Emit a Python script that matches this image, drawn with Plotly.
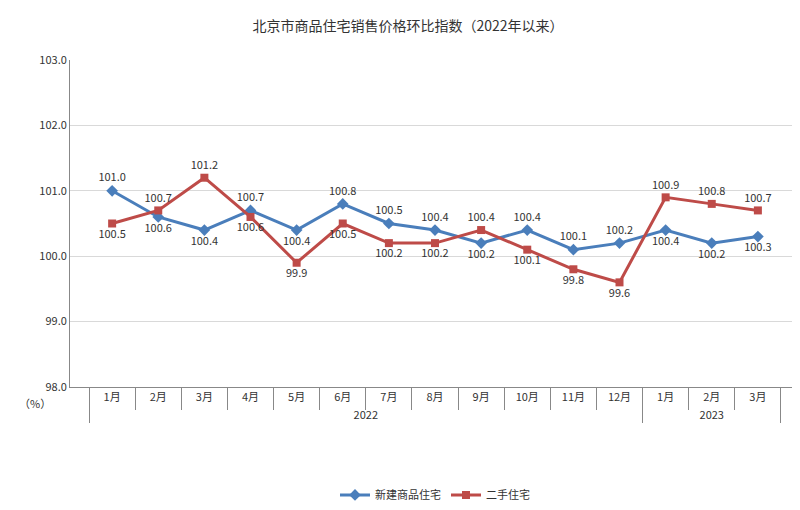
import plotly.graph_objects as go

years = ["2022"] * 12 + ["2023"] * 3
months = ["1月", "2月", "3月", "4月", "5月", "6月", "7月", "8月", "9月", "10月", "11月", "12月", "1月", "2月", "3月"]
new_homes = [101.0, 100.6, 100.4, 100.7, 100.4, 100.8, 100.5, 100.4, 100.2, 100.4, 100.1, 100.2, 100.4, 100.2, 100.3]
second_hand = [100.5, 100.7, 101.2, 100.6, 99.9, 100.5, 100.2, 100.2, 100.4, 100.1, 99.8, 99.6, 100.9, 100.8, 100.7]
new_pos = ["top center", "bottom center", "bottom center", "top center", "bottom center", "top center", "top center",
           "top center", "bottom center", "top center", "top center", "top center", "bottom center", "bottom center", "bottom center"]
sec_pos = ["bottom center", "top center", "top center", "bottom center", "bottom center", "bottom center", "bottom center",
           "bottom center", "top center", "bottom center", "bottom center", "bottom center", "top center", "top center", "top center"]

x = [years, months]
fig = go.Figure()
fig.add_scatter(x=x, y=new_homes, name="新建商品住宅", mode="lines+markers+text",
                line=dict(color="#4a7ebb", width=3), marker=dict(symbol="diamond", size=9, color="#4a7ebb"),
                text=[f"{v:.1f}" for v in new_homes], textposition=new_pos, textfont=dict(size=11, color="#333"))
fig.add_scatter(x=x, y=second_hand, name="二手住宅", mode="lines+markers+text",
                line=dict(color="#be4b48", width=3), marker=dict(symbol="square", size=8, color="#be4b48"),
                text=[f"{v:.1f}" for v in second_hand], textposition=sec_pos, textfont=dict(size=11, color="#333"))

fig.update_layout(
    width=800, height=510, plot_bgcolor="white", paper_bgcolor="white",
    font=dict(family="Noto Sans CJK SC", size=11, color="#333"),
    title=dict(text="北京市商品住宅销售价格环比指数（2022年以来）", x=0.5, y=0.975, font=dict(size=14)),
    margin=dict(l=62, r=8, t=52, b=122),
    legend=dict(orientation="h", x=0.5, xanchor="center", y=-0.33, yanchor="middle", font=dict(size=11)),
    annotations=[dict(text="（%）", xref="paper", yref="paper", x=-0.072, y=-0.08, showarrow=False, font=dict(size=11))],
)
fig.update_yaxes(range=[98, 103], dtick=1, tickformat=".1f", showgrid=True, gridcolor="#d9d9d9",
                 showline=True, linecolor="#888", zeroline=False)
fig.update_xaxes(showline=True, linecolor="#888", showgrid=False,
                 showdividers=True, dividercolor="#888", tickson="boundaries", ticks="outside", ticklen=22, tickcolor="#888")
fig.write_html("out.html")
